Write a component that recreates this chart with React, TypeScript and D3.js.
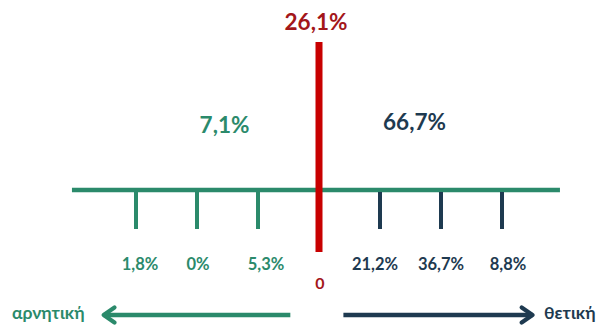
import React from "react";
import * as d3 from "d3";

const leftLabels = ["1,8%", "0%", "5,3%"];
const rightLabels = ["21,2%", "36,7%", "8,8%"];
const leftPositions = [-3, -2, -1];
const rightPositions = [1, 2, 3];
const centerValue = "26,1%";
const centerLabel = "0";
const negativeTotal = "7,1%";
const positiveTotal = "66,7%";
const negativeText = "αρνητική";
const positiveText = "θετική";

const W = 596;
const H = 325;
const GREEN = "#2b8a6b";
const NAVY = "#1e3a50";
const RED = "#c80000";
const DARKRED = "#a3161a";
const FONT = "Lato, 'Noto Sans', sans-serif";

export default function App() {
  const x = d3.scaleLinear().domain([-1, 1]).range([319 - 61, 319 + 61]);
  const axisY = 190;
  const tickEnd = 229;
  return (
    <svg width={W} height={H} style={{ position: "absolute", left: 0, top: 0, background: "#fff" }} fontFamily={FONT}>
      <defs>
        <filter id="glow" x="-200%" y="-10%" width="500%" height="120%">
          <feGaussianBlur stdDeviation="2" />
        </filter>
        <marker id="arrG" viewBox="0 0 10 10" refX="8" refY="5" markerWidth="4" markerHeight="4.4" orient="auto" markerUnits="strokeWidth">
          <path d="M2,0.8 L8,5 L2,9.2" fill="none" stroke={GREEN} strokeWidth="2.3" strokeLinecap="round" strokeLinejoin="round" />
        </marker>
        <marker id="arrN" viewBox="0 0 10 10" refX="8" refY="5" markerWidth="4" markerHeight="4.4" orient="auto" markerUnits="strokeWidth">
          <path d="M2,0.8 L8,5 L2,9.2" fill="none" stroke={NAVY} strokeWidth="2.3" strokeLinecap="round" strokeLinejoin="round" />
        </marker>
      </defs>

      {/* axis line */}
      <line x1={x(-4.05)} x2={x(3.95)} y1={axisY} y2={axisY} stroke={GREEN} strokeWidth={4.5} />

      {/* left ticks */}
      {leftPositions.map((p, i) => (
        <g key={"l" + i}>
          <line x1={x(p)} x2={x(p)} y1={axisY} y2={tickEnd} stroke={GREEN} strokeWidth={4} />
          <text x={x(p) + [4, 1, 8][i]} y={270} textAnchor="middle" fill={GREEN} fontSize={16.5} fontWeight="bold">
            {leftLabels[i]}
          </text>
        </g>
      ))}

      {/* right ticks */}
      {rightPositions.map((p, i) => (
        <g key={"r" + i}>
          <line x1={x(p)} x2={x(p)} y1={axisY + 2} y2={tickEnd} stroke={NAVY} strokeWidth={4} />
          <text x={x(p) + [-5, 0, 6][i]} y={270} textAnchor="middle" fill={NAVY} fontSize={16.5} fontWeight="bold">
            {rightLabels[i]}
          </text>
        </g>
      ))}

      {/* red center line */}
      <line x1={x(0)} x2={x(0)} y1={42} y2={252} stroke="#f08080" strokeWidth={10} opacity={0.6} filter="url(#glow)" />
      <line x1={x(0)} x2={x(0)} y1={42} y2={252} stroke={RED} strokeWidth={7} />

      <text x={x(0) - 3} y={30} textAnchor="middle" fill={DARKRED} fontSize={22.5} fontWeight="bold">
        {centerValue}
      </text>
      <text x={x(0) + 1} y={289} textAnchor="middle" fill={DARKRED} fontSize={16} fontWeight="bold">
        {centerLabel}
      </text>

      <text x={224.5} y={133} textAnchor="middle" fill={GREEN} fontSize={22.5} fontWeight="bold">
        {negativeTotal}
      </text>
      <text x={414.5} y={130} textAnchor="middle" fill={NAVY} fontSize={22.5} fontWeight="bold">
        {positiveTotal}
      </text>

      {/* arrows */}
      <line x1={x(-0.47)} x2={x(-3.53)} y1={315} y2={315} stroke={GREEN} strokeWidth={4.5} markerEnd="url(#arrG)" />
      <line x1={x(0.4)} x2={x(3.5)} y1={315} y2={315} stroke={NAVY} strokeWidth={4.5} markerEnd="url(#arrN)" />

      <text x={12} y={319} fill={GREEN} fontSize={17.5} fontWeight="bold">
        {negativeText}
      </text>
      <text x={544} y={319} fill={NAVY} fontSize={17.5} fontWeight="bold">
        {positiveText}
      </text>
    </svg>
  );
}
